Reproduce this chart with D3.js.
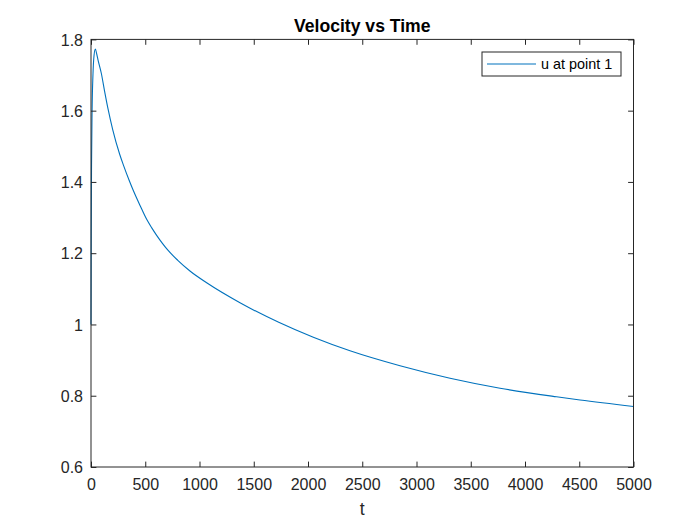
<!DOCTYPE html>
<html lang="en">
<head>
	<meta charset="UTF-8">
	<title>Velocity vs Time</title>
	<script src="https://cdn.jsdelivr.net/npm/d3@7"></script>
	<style>
		body { margin: 0; background: #fff; }
		text { font-family: "Liberation Sans", Arial, sans-serif; fill: #262626; }
	</style>
</head>
<body>
	<script>
		// values
		var tValues = [0, 2, 5, 10, 18, 28, 40, 52, 65, 95, 125, 157, 200, 265, 298, 355, 390, 452, 513,
			560, 605, 660, 713, 800, 912, 1066, 1373, 1730, 2049, 2387, 2848, 3309, 3770, 4290, 4507, 5000];
		var uValues = [1.0, 1.25, 1.45, 1.60, 1.70, 1.755, 1.773, 1.760, 1.742, 1.705, 1.655, 1.605, 1.547,
			1.477, 1.448, 1.402, 1.376, 1.334, 1.295, 1.271, 1.250, 1.227, 1.207, 1.180, 1.150, 1.117,
			1.061, 1.006, 0.964, 0.926, 0.884, 0.849, 0.821, 0.797, 0.788, 0.770];
		var xTicks = [0, 500, 1000, 1500, 2000, 2500, 3000, 3500, 4000, 4500, 5000];
		var yTicks = [0.6, 0.8, 1, 1.2, 1.4, 1.6, 1.8];
		var seriesName = "u at point 1";

		var w = 700, h = 525;
		// plot box (MATLAB default axes position)
		var pLeft = 91, pRight = 633.5, pTop = 39.4, pBottom = 467;
		var axisColor = "#262626";
		var tickLen = 5.4;

		var x = d3.scaleLinear().domain([0, 5000]).range([pLeft, pRight]);
		var y = d3.scaleLinear().domain([0.6, 1.8]).range([pBottom, pTop]);

		var svg = d3.select("body").append("svg")
			.attr("width", w)
			.attr("height", h);

		// the curve
		var data = tValues.map(function(t, i) { return [t, uValues[i]]; });
		var line = d3.line()
			.x(function(d) { return x(d[0]); })
			.y(function(d) { return y(d[1]); })
			.curve(d3.curveMonotoneX);

		svg.append("path")
			.datum(data)
			.attr("d", line)
			.attr("fill", "none")
			.attr("stroke", "#0072BD")
			.attr("stroke-width", 1.1);

		// axes: ticks inward on all four sides (box on)
		var xBottom = d3.axisBottom(x).tickValues(xTicks).tickSizeInner(-tickLen).tickSizeOuter(0)
			.tickFormat(d3.format("d"));
		var xTop = d3.axisTop(x).tickValues(xTicks).tickSizeInner(-tickLen).tickSizeOuter(0).tickFormat("");
		var yLeft = d3.axisLeft(y).tickValues(yTicks).tickSizeInner(-tickLen).tickSizeOuter(0)
			.tickFormat(function(d) { return String(+d.toFixed(1)); });
		var yRight = d3.axisRight(y).tickValues(yTicks).tickSizeInner(-tickLen).tickSizeOuter(0).tickFormat("");

		function style(g) {
			g.select(".domain").remove();
			g.selectAll(".tick line").attr("stroke", axisColor);
			g.selectAll(".tick text").attr("fill", axisColor)
				.style("font-size", "16px")
				.style("font-family", "'Liberation Sans', Arial, sans-serif");
		}

		var gxb = svg.append("g").attr("transform", "translate(0," + pBottom + ")").call(xBottom).call(style);
		gxb.selectAll(".tick text").attr("y", 12).attr("dy", "0.71em");
		svg.append("g").attr("transform", "translate(0," + pTop + ")").call(xTop).call(style);
		var gyl = svg.append("g").attr("transform", "translate(" + pLeft + ",0)").call(yLeft).call(style);
		gyl.selectAll(".tick text").attr("x", -8).attr("dy", "0.36em");
		svg.append("g").attr("transform", "translate(" + pRight + ",0)").call(yRight).call(style);

		// box
		svg.append("rect")
			.attr("x", pLeft).attr("y", pTop)
			.attr("width", pRight - pLeft).attr("height", pBottom - pTop)
			.attr("fill", "none")
			.attr("stroke", axisColor)
			.attr("stroke-width", 1);

		// title and label
		svg.append("text")
			.attr("x", (pLeft + pRight) / 2).attr("y", 31.5)
			.attr("text-anchor", "middle")
			.style("font-size", "17.6px")
			.style("font-weight", "bold")
			.style("fill", "#000")
			.text("Velocity vs Time");

		svg.append("text")
			.attr("x", (pLeft + pRight) / 2).attr("y", 515)
			.attr("text-anchor", "middle")
			.style("font-size", "17.6px")
			.text("t");

		// legend
		var legend = svg.append("g");
		legend.append("rect")
			.attr("x", 482).attr("y", 52)
			.attr("width", 139).attr("height", 24)
			.attr("fill", "#fff")
			.attr("stroke", axisColor)
			.attr("stroke-width", 1);
		legend.append("line")
			.attr("x1", 487).attr("x2", 536)
			.attr("y1", 64).attr("y2", 64)
			.attr("stroke", "#0072BD")
			.attr("stroke-width", 1.1);
		legend.append("text")
			.attr("x", 541).attr("y", 69)
			.style("font-size", "14.4px")
			.style("fill", "#000")
			.text(seriesName);
	</script>
</body>
</html>
